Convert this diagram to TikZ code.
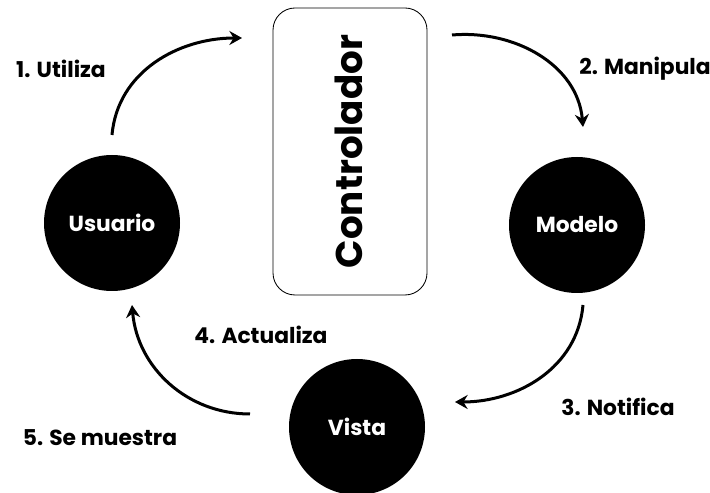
\documentclass[tikz,border=0pt]{standalone}
\usepackage{fontspec}
\setmainfont{Poppins}
\usetikzlibrary{arrows.meta,shapes}

\begin{document}
\begin{tikzpicture}[>={Stealth[length=9pt,width=10pt,inset=3pt]},auto]

\tikzstyle{actor}=[circle,fill=black,text=white,
	minimum size=3.4cm,inner sep=0pt,font=\bfseries\fontsize{15.5}{18}\selectfont]

\tikzstyle{ctrlbox}=[rectangle,rounded corners=0.55cm,draw=black,line width=0.06em,
	minimum width=3.85cm,minimum height=7.175cm]

\tikzstyle{steplabel}=[text=black,font=\bfseries\fontsize{15.5}{18}\selectfont]

\tikzstyle{flow}=[->,line width=0.075cm]

  \useasboundingbox (0,0) rectangle (17.75,12.325);

  \node  (ctrl)    at (8.75,8.5375) [ctrlbox] {};
  \node  (ctrltxt) at (8.72,8.5375) [rotate=90,font=\bfseries\fontsize{26.5}{30}\selectfont]
         {Controlador};

  \node  (usuario) at (2.8,6.75)    [actor] {Usuario};
  \node  (modelo)  at (14.425,6.7)  [actor] {Modelo};
  \node  (vista)   at (8.925,1.65)  [actor] {Vista};

  %% free ends of the arrows
  \node  (u1) at (2.8,8.95)    [coordinate] {};
  \node  (c1) at (6.05,11.375) [coordinate] {};
  \node  (c2) at (11.3,11.45)  [coordinate] {};
  \node  (m1) at (14.575,9.15) [coordinate] {};
  \node  (m2) at (14.575,4.7)  [coordinate] {};
  \node  (v1) at (11.375,2.275) [coordinate] {};
  \node  (v2) at (6.25,1.975)  [coordinate] {};
  \node  (u2) at (3.3,4.7)     [coordinate] {};

  \node  (l1) at (1.525,10.6)  [steplabel] {1. Utiliza};
  \node  (l2) at (16.125,10.6) [steplabel] {2. Manipula};
  \node  (l3) at (15.45,2.15)  [steplabel] {3. Notifica};
  \node  (l4) at (6.525,3.95)  [steplabel] {4. Actualiza};
  \node  (l5) at (2.5,1.375)   [steplabel] {5. Se muestra};

  \path (u1) edge [flow,out=85,in=180]  (c1)
        (c2) edge [flow,out=5,in=95]    (m1)
        (m2) edge [flow,out=-95,in=0]   (v1)
        (v2) edge [flow,out=180,in=-85] (u2);

\end{tikzpicture}
\end{document}
